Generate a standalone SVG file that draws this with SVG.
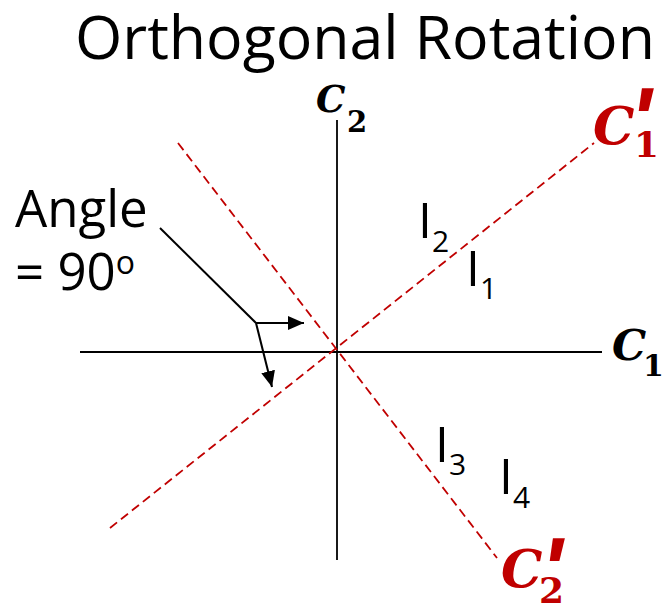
<svg xmlns="http://www.w3.org/2000/svg" width="663" height="610" viewBox="0 0 663 610">
<style>
.t{font-family:"Open Sans","Liberation Sans",sans-serif;fill:#000}
.m{font-family:"DejaVu Serif","Liberation Serif",serif;font-weight:bold}
.mi{font-style:italic}
.pr{font-family:"Liberation Sans","Arial",sans-serif;font-weight:bold;font-style:italic}
.red{fill:#C00000}
.axis{stroke:#000;stroke-width:1.8;fill:none}
.dash{stroke:#C00000;stroke-width:1.8;stroke-dasharray:9 5;fill:none}
.ln{stroke:#000;stroke-width:2;fill:none}
</style>
<defs>
<marker id="ahb" markerWidth="16" markerHeight="14" refX="16" refY="7" orient="auto" markerUnits="userSpaceOnUse" viewBox="0 0 16 14">
<path d="M0,0 L16,7 L0,14 z" fill="#000"/>
</marker>
</defs>
<g id="title"><text class="t" x="75" y="59" font-size="60" textLength="580" lengthAdjust="spacingAndGlyphs">Orthogonal Rotation</text></g>
<g id="connectors">
<line class="axis" x1="80" y1="352" x2="602" y2="352"/>
<line class="axis" x1="337" y1="120" x2="337" y2="560"/>
<line class="dash" x1="178" y1="143" x2="497" y2="558"/>
<line class="dash" x1="110" y1="528" x2="594" y2="143"/>
<line class="ln" x1="160" y1="228" x2="256" y2="323"/>
<line class="ln" x1="256" y1="323" x2="304" y2="323" marker-end="url(#ahb)"/>
<line class="ln" x1="256" y1="323" x2="272" y2="387" marker-end="url(#ahb)"/>
</g>
<g id="angle-label">
<text class="t" x="15" y="227" font-size="51">Angle</text>
<text class="t" x="15" y="290" font-size="51">= 90<tspan font-size="32" dy="-16">o</tspan></text>
</g>
<g id="C2"><text class="m" x="316" y="112" font-size="37"><tspan class="mi">C</tspan><tspan x="347" y="132" font-size="29">2</tspan></text></g>
<g id="C1"><text class="m" x="612" y="360" font-size="43"><tspan class="mi">C</tspan><tspan x="643" y="376" font-size="30">1</tspan></text></g>
<g id="C1p">
<text class="m red" x="593" y="144" font-size="52"><tspan class="mi">C</tspan><tspan x="634" y="157" font-size="36">1</tspan></text>
<text class="pr red" x="630" y="151" font-size="90">'</text>
</g>
<g id="C2p">
<text class="m red" x="501" y="587" font-size="52"><tspan class="mi">C</tspan><tspan x="539" y="603" font-size="36">2</tspan></text>
<text class="pr red" x="541" y="601" font-size="90">'</text>
</g>
<g id="I2"><text class="t" x="418" y="238" font-size="50">I<tspan font-size="30" dy="14">2</tspan></text></g>
<g id="I1"><text class="t" x="466" y="286" font-size="50">I<tspan font-size="30" dy="13">1</tspan></text></g>
<g id="I3"><text class="t" x="435" y="462" font-size="50">I<tspan font-size="30" dy="13">3</tspan></text></g>
<g id="I4"><text class="t" x="499" y="494" font-size="50">I<tspan font-size="30" dy="14">4</tspan></text></g>
</svg>
